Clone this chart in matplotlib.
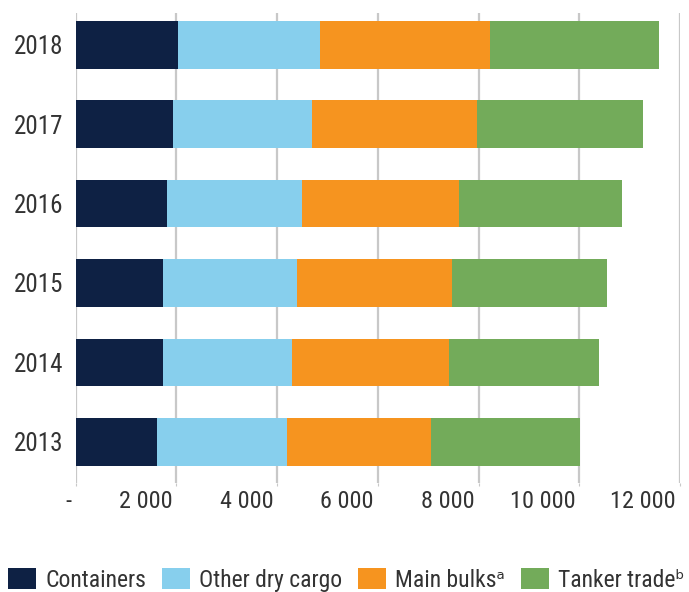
import numpy as np
import matplotlib
matplotlib.use('Agg')
import matplotlib.pyplot as plt
import matplotlib.transforms as mtransforms
from matplotlib import font_manager as fm
from matplotlib.ticker import FixedLocator

# look for a narrow sans font (the original uses Arial Narrow)
prefer = ['Liberation Sans Narrow', 'Arial Narrow', 'Roboto Condensed',
          'Noto Sans', 'Open Sans', 'DejaVu Sans']
found = None
for name in prefer:
    for f in fm.fontManager.ttflist:
        narrow = (str(f.stretch) in ('condensed', 'semi-condensed', 'extra-condensed')
                  or 'Narrow' in f.name or 'Condensed' in f.name)
        if f.name == name and narrow and f.style == 'normal' and f.weight in (400, 'normal', 'regular'):
            found = f
            break
    if found:
        break

if found:
    plt.rcParams['font.family'] = [found.name, 'DejaVu Sans']
    plt.rcParams['font.stretch'] = found.stretch
    fs_y, fs_x, fs_leg = 18, 17.5, 17
else:
    plt.rcParams['font.family'] = ['Liberation Sans', 'DejaVu Sans']
    fs_y, fs_x, fs_leg = 15, 14.5, 14

# data
years = ['2013', '2014', '2015', '2016', '2017', '2018']
containers = [1620, 1735, 1735, 1820, 1935, 2030]
other_dry = [2565, 2550, 2650, 2670, 2760, 2820]
main_bulks = [2860, 3125, 3080, 3125, 3280, 3385]
tanker = [2970, 2975, 3080, 3225, 3280, 3340]

series = [
    ('Containers', containers, '#0e2144'),
    ('Other dry cargo', other_dry, '#87cfed'),
    ('Main bulks\u1d43', main_bulks, '#f6941f'),
    ('Tanker trade\u1d47', tanker, '#73ab5a'),
]
xticks = [0, 2000, 4000, 6000, 8000, 10000, 12000]
xticklabels = ['-', '2 000', '4 000', '6 000', '8 000', '10 000', '12 000']

fig = plt.figure(figsize=(6.89, 5.92), dpi=100)
ax = fig.add_axes([0.110, 0.184, 0.877, 0.794])

y = np.arange(len(years))
left = np.zeros(len(years))
for name, vals, col in series:
    ax.barh(y, vals, left=left, height=0.6, color=col, label=name, zorder=3)
    left += np.array(vals)

ax.set_xlim(0, 12000)
ax.set_ylim(-0.52, 5.4)
ax.set_yticks(y)
ax.set_yticklabels(years)
ax.xaxis.set_major_locator(FixedLocator(xticks))
ax.set_xticklabels(xticklabels)

ax.grid(axis='x', color='#c8c8c8', linewidth=1.6, zorder=0)
for s in ax.spines.values():
    s.set_visible(False)
ax.tick_params(axis='y', length=0, labelsize=fs_y, labelcolor='#333333', pad=9)
ax.tick_params(axis='x', length=2, color='#c8c8c8', labelsize=fs_x,
               labelcolor='#333333', pad=3)

# x labels sit to the left of their gridline in the original
shift = mtransforms.ScaledTranslation(-4 / 100, 0, fig.dpi_scale_trans)
for lab in ax.get_xticklabels():
    lab.set_horizontalalignment('right')
    lab.set_transform(lab.get_transform() + shift)

fig.legend(loc='lower left', bbox_to_anchor=(8 / 689, 0.0), ncol=4,
           frameon=False, fontsize=fs_leg, handlelength=1.19, handleheight=1.0,
           handletextpad=0.4, columnspacing=0.65, labelcolor='#333333',
           borderpad=0, borderaxespad=0)

plt.savefig('out.png', dpi=100)
